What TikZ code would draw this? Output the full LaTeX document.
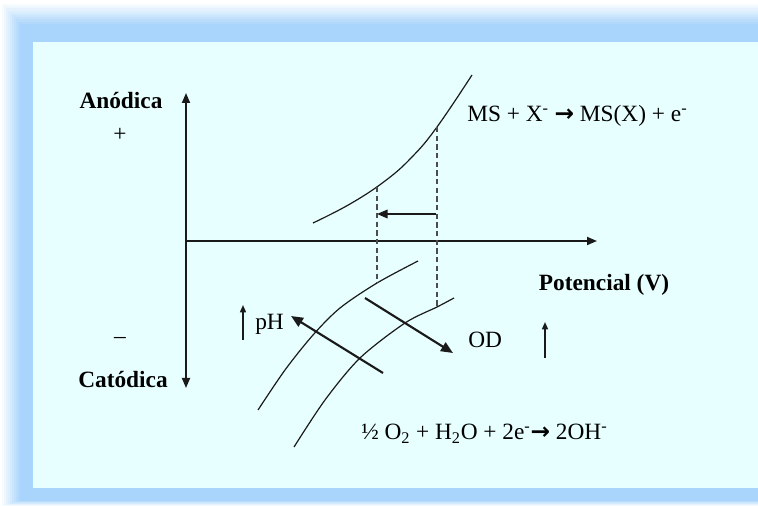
\documentclass[tikz,border=0pt]{standalone}
\usepackage{fontspec}
\setmainfont{Liberation Serif}
\newfontfamily\arrowfont{DejaVu Sans}
\usetikzlibrary{arrows.meta}
\definecolor{frameband}{HTML}{A9D4FB}
\definecolor{framepanel}{HTML}{E8FFFF}
\definecolor{inkline}{HTML}{1A1A1A}
\tikzset{
  lbl/.style={font=\fontsize{17.5}{21}\selectfont, inner sep=0pt},
  boldlbl/.style={lbl, font=\fontsize{17.5}{21}\selectfont\bfseries},
  axisline/.style={line width=1.3pt, inkline},
  curve/.style={line width=0.9pt, inkline},
  guide/.style={line width=0.8pt, gray!60!black, dash pattern=on 4pt off 2.5pt},
  shiftarrow/.style={line width=1.1pt, inkline, -{Triangle[length=8pt,width=6.5pt]}},
  bigarrow/.style={line width=1.6pt, inkline, -{Triangle[length=9pt,width=7.5pt]}},
  smallarrow/.style={line width=1.1pt, inkline, -{Triangle[length=5.5pt,width=4.5pt]}},
}
\newcommand{\boldarr}{{\arrowfont\bfseries →}}
\begin{document}
\begin{tikzpicture}[x=0.75pt,y=-0.75pt]
    \useasboundingbox (0,0) rectangle (758,506);
    % frame
    \fill[white] (0,0) rectangle (758,506);
    \foreach \k [evaluate=\k as \pct using {int(10*\k+10)}] in {0,...,9}
      \fill[frameband!\pct!white] (2+2*\k,4+2.2*\k) rectangle (758,506-0.6*\k);
    \fill[framepanel] (33,42) rectangle (758,488);
    % axes
    \coordinate (o) at (186,241);
    \coordinate (ytop) at (186,93);
    \coordinate (ybot) at (186,388);
    \coordinate (xend) at (597,241);
    \draw[axisline, {Triangle[length=7.5pt,width=6pt]}-{Triangle[length=7.5pt,width=6pt]}] (ybot) -- (ytop);
    \draw[axisline, -{Triangle[length=7.5pt,width=6pt]}] (o) -- (xend);
    \node[boldlbl] (anod) at (121,101) {Anódica};
    \node[lbl] (plus) at (120,135) {+};
    \node[lbl] (minus) at (120,340) {–};
    \node[boldlbl] (catod) at (123,380) {Catódica};
    \node[boldlbl] (pot) at (604,285) {Potencial (V)};
    % anodic curve
    \draw[curve] plot[smooth, tension=0.7] coordinates {(313,223) (350,204) (385,181) (412,157) (437,127) (472,75)};
    \coordinate (ta) at (377,187);
    \coordinate (tb) at (437,127);
    \node[lbl, anchor=west] (anreac) at (467,116) {MS + X\textsuperscript{-} \boldarr{} MS(X) + e\textsuperscript{-}};
    % cathodic curves
    \draw[curve] plot[smooth] coordinates {(258,410) (285,370) (313,335) (340,308) (377,283) (418,261)};
    \draw[curve] plot[smooth] coordinates {(294,447) (325,400) (360,358) (405,323) (437,307) (454,298)};
    \coordinate (ba) at (377,283);
    \coordinate (bb) at (437,307);
    \draw[guide] (ta) -- (ba);
    \draw[guide] (tb) -- (bb);
    \coordinate (sa) at (436,214);
    \coordinate (sb) at (377,214);
    \draw[shiftarrow] (sa) -- (sb);
    % pH and OD
    \coordinate (pha) at (383,373);
    \coordinate (phb) at (291,316);
    \draw[bigarrow] (pha) -- (phb);
    \coordinate (oda) at (365,298);
    \coordinate (odb) at (453,353);
    \draw[bigarrow] (oda) -- (odb);
    \node[lbl, anchor=west] (ph) at (255,324) {pH};
    \coordinate (phup0) at (243,340);
    \coordinate (phup1) at (243,305);
    \draw[smallarrow] (phup0) -- (phup1);
    \node[lbl, anchor=west] (od) at (468,340) {OD};
    \coordinate (odup0) at (545,358);
    \coordinate (odup1) at (545,322);
    \draw[smallarrow] (odup0) -- (odup1);
    \node[lbl, anchor=west] (catreac) at (361,434) {½ O\textsubscript{2} + H\textsubscript{2}O + 2e\textsuperscript{-}\boldarr{} 2OH\textsuperscript{-}};
  \end{tikzpicture}
\end{document}
